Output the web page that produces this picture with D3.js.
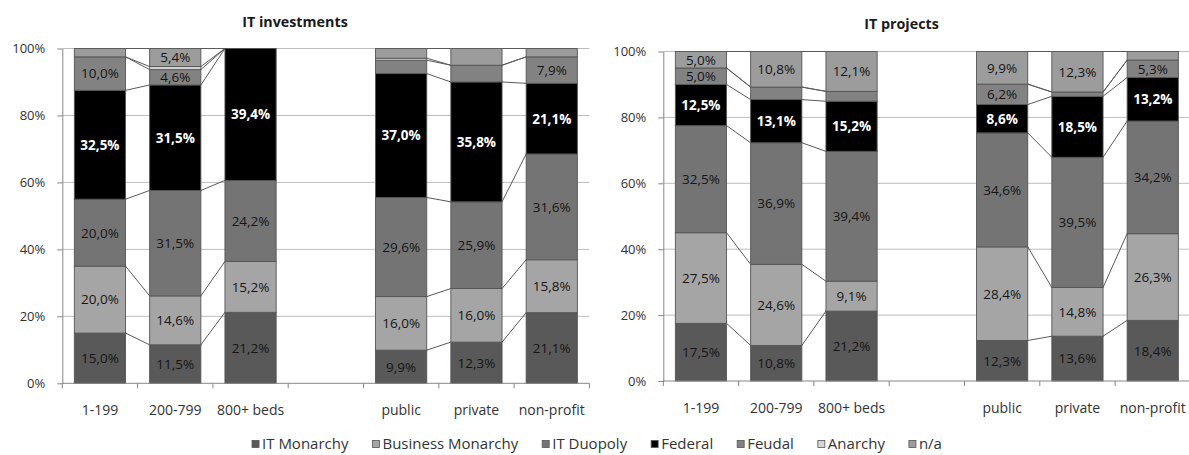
<!DOCTYPE html>
<html><head><meta charset="utf-8">
<script src="https://cdn.jsdelivr.net/npm/d3@7"></script>
<style>
body{margin:0;background:#fff;}
svg{display:block;font-family:"Open Sans",sans-serif;}
</style>
</head><body>
<svg id="chart" width="1189" height="455"></svg>
<script>
// ---------------- DATA ----------------
const categories = ["1-199", "200-799", "800+ beds", "", "public", "private", "non-profit"];
const seriesNames = ["IT Monarchy", "Business Monarchy", "IT Duopoly", "Federal", "Feudal", "Anarchy", "n/a"];
const seriesColors = ["#595959", "#a5a5a5", "#747474", "#000000", "#828282", "#d6d6d6", "#9c9c9c"];
const chartTitles = ["IT investments", "IT projects"];
const yTicks = [0, 20, 40, 60, 80, 100];

// one row per category, values in series order (null = empty category)
const investmentValues = [
  [15.0, 20.0, 20.0, 32.5, 10.0, 0.0, 2.5],
  [11.5, 14.6, 31.5, 31.5, 4.6, 0.9, 5.4],
  [21.2, 15.2, 24.2, 39.4, 0.0, 0.0, 0.0],
  null,
  [9.9, 16.0, 29.6, 37.0, 4.0, 0.6, 2.9],
  [12.3, 16.0, 25.9, 35.8, 5.0, 0.0, 5.0],
  [21.1, 15.8, 31.6, 21.1, 7.9, 0.0, 2.5]
];
const projectValues = [
  [17.5, 27.5, 32.5, 12.5, 5.0, 0.0, 5.0],
  [10.8, 24.6, 36.9, 13.1, 3.8, 0.0, 10.8],
  [21.2, 9.1, 39.4, 15.2, 3.0, 0.0, 12.1],
  null,
  [12.3, 28.4, 34.6, 8.6, 6.2, 0.0, 9.9],
  [13.6, 14.8, 39.5, 18.5, 1.3, 0.0, 12.3],
  [18.4, 26.3, 34.2, 13.2, 5.3, 0.0, 2.6]
];
// [categoryIndex, seriesIndex] of segments whose label is not shown
const investmentUnlabeled = [[5, 4], [5, 6]];
const projectUnlabeled = [];
const labelMin = 4.5;

// ---------------- DRAW ----------------
const svg = d3.select("#chart");
const loc = d3.formatLocale({decimal: ",", thousands: ".", grouping: [3], currency: ["", ""]});
const fmt = loc.format(".1f");

const layouts = [
  {left: 62.3, right: 589.4, top: 48.5, bottom: 383.3, titleX: 295, titleY: 27},
  {left: 663.3, right: 1190.4, top: 51.5, bottom: 381, titleX: 901.5, titleY: 29}
];

function drawChart(values, unlabeled, title, L) {
  const g = svg.append("g");
  const x = d3.scaleBand().domain(categories.map((c, i) => i)).range([L.left, L.right]).paddingInner(0).paddingOuter(0);
  const y = d3.scaleLinear().domain([0, 100]).range([L.bottom, L.top]);
  const bw = x.bandwidth() * 0.68;
  const barX = i => x(i) + (x.bandwidth() - bw) / 2;

  // gridlines
  g.append("g").selectAll("line").data(yTicks.filter(t => t > 0)).join("line")
    .attr("x1", L.left).attr("x2", L.right)
    .attr("y1", d => y(d)).attr("y2", d => y(d))
    .attr("stroke", "#bdbdbd").attr("stroke-width", 1);

  // stacked data
  const rows = [];
  values.forEach((row, ci) => {
    if (!row) return;
    let acc = 0;
    row.forEach((v, si) => {
      rows.push({ci, si, v, y0: acc, y1: acc + v});
      acc += v;
    });
  });

  // series lines between adjacent non-empty categories
  const lines = [];
  for (let ci = 0; ci < values.length - 1; ci++) {
    if (!values[ci] || !values[ci + 1]) continue;
    for (let si = 0; si < seriesNames.length; si++) {
      const a = rows.find(r => r.ci === ci && r.si === si);
      const b = rows.find(r => r.ci === ci + 1 && r.si === si);
      lines.push({x1: barX(ci) + bw, y1: y(a.y1), x2: barX(ci + 1), y2: y(b.y1)});
    }
  }
  g.append("g").selectAll("line").data(lines).join("line")
    .attr("x1", d => d.x1).attr("y1", d => d.y1).attr("x2", d => d.x2).attr("y2", d => d.y2)
    .attr("stroke", "#5a5a5a").attr("stroke-width", 1);

  // bars
  g.append("g").selectAll("rect").data(rows.filter(r => r.v > 0)).join("rect")
    .attr("x", d => barX(d.ci)).attr("width", bw)
    .attr("y", d => y(d.y1)).attr("height", d => y(d.y0) - y(d.y1))
    .attr("fill", d => seriesColors[d.si])
    .attr("stroke", "#555").attr("stroke-width", 0.9);

  // labels
  const hidden = new Set(unlabeled.map(p => p[0] + "_" + p[1]));
  g.append("g").selectAll("text")
    .data(rows.filter(r => r.v >= labelMin && !hidden.has(r.ci + "_" + r.si))).join("text")
    .attr("x", d => barX(d.ci) + bw / 2)
    .attr("y", d => y((d.y0 + d.y1) / 2))
    .attr("dy", "0.36em")
    .attr("text-anchor", "middle")
    .attr("font-size", "13.5px")
    .attr("font-weight", d => seriesNames[d.si] === "Federal" ? "bold" : "normal")
    .attr("fill", d => seriesNames[d.si] === "Federal" ? "#ffffff" : "#151515")
    .text(d => fmt(d.v) + "%");

  // y axis
  const ya = g.append("g").attr("transform", `translate(${L.left},0)`)
    .call(d3.axisLeft(y).tickValues(yTicks).tickFormat(d => d + "%").tickSize(5).tickSizeOuter(0).tickPadding(12));
  ya.select(".domain").attr("stroke", "#868686");
  ya.selectAll(".tick line").attr("stroke", "#868686");
  ya.selectAll("text").attr("font-size", "13px").attr("fill", "#333").attr("font-family", "Open Sans");

  // x axis: labels at band centers
  const xa = g.append("g").attr("transform", `translate(0,${L.bottom})`)
    .call(d3.axisBottom(x).tickFormat(i => categories[i]).tickSize(0).tickPadding(22));
  xa.select(".domain").remove();
  xa.selectAll("text").attr("font-size", "14px").attr("fill", "#333").attr("font-family", "Open Sans");
  // axis line and boundary ticks
  g.append("line").attr("x1", L.left).attr("x2", L.right).attr("y1", L.bottom).attr("y2", L.bottom)
    .attr("stroke", "#868686");
  const bounds = d3.range(categories.length + 1).map(i => L.left + i * x.step());
  g.append("g").selectAll("line").data(bounds).join("line")
    .attr("x1", d => d).attr("x2", d => d).attr("y1", L.bottom).attr("y2", L.bottom + 5)
    .attr("stroke", "#868686");

  // title
  g.append("text").attr("x", L.titleX).attr("y", L.titleY)
    .attr("text-anchor", "middle").attr("font-size", "14.3px").attr("font-weight", "bold")
    .attr("fill", "#1a1a1a").text(title);
}

drawChart(investmentValues, investmentUnlabeled, chartTitles[0], layouts[0]);
drawChart(projectValues, projectUnlabeled, chartTitles[1], layouts[1]);

// legend
const lg = svg.append("g");
let cx = 0;
seriesNames.forEach((name, i) => {
  const item = lg.append("g").attr("transform", `translate(${cx},0)`);
  item.append("rect").attr("x", 0).attr("y", 440.5).attr("width", 7).attr("height", 7)
    .attr("fill", seriesColors[i]).attr("stroke", "#555").attr("stroke-width", 0.8);
  const t = item.append("text").attr("x", 10).attr("y", 448.5)
    .attr("font-size", "15px").attr("fill", "#333").text(name);
  cx += 10 + t.node().getComputedTextLength() + 24;
});
const total = cx - 24;
lg.attr("transform", `translate(${597 - total / 2},0)`);
</script>
</body></html>
